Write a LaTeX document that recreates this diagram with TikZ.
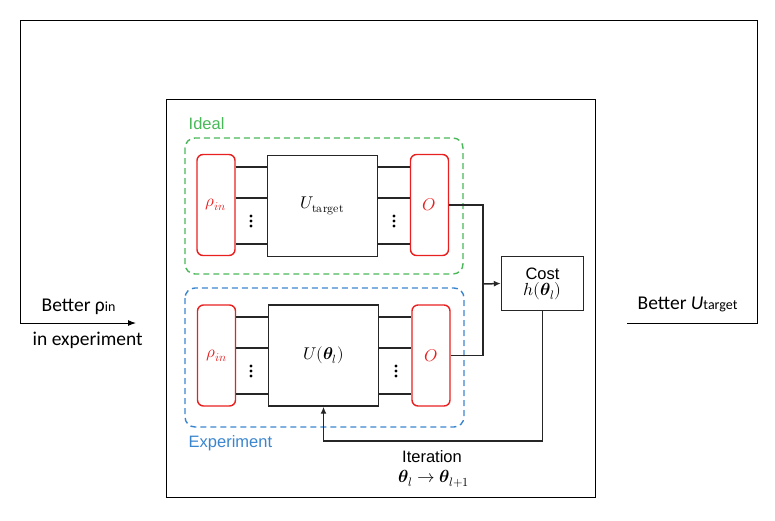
\documentclass[tikz,border=0pt]{standalone}
\usepackage{fontspec}
\usepackage{unicode-math}
\setmainfont{Liberation Sans}
\setmathfont{Latin Modern Math}
\newfontfamily\notefont{Carlito}
\usetikzlibrary{arrows.meta}

\definecolor{idealgreen}{RGB}{72,184,88}
\definecolor{expblue}{RGB}{58,134,206}
\definecolor{statered}{RGB}{232,32,32}

\newcommand{\bigmath}[1]{{\fontsize{17.5}{19}\selectfont$#1$}}

\begin{document}
\begin{tikzpicture}[x=1pt,y=-1pt,
  line width=1.4pt,
  wire/.style={draw=black!85, line width=1.5pt},
  statebox/.style={draw=statered, rounded corners=6pt, minimum width=38pt, minimum height=101pt, inner sep=0pt, font=\fontsize{17}{19}\selectfont, text=statered},
  gatebox/.style={draw=black!85, minimum width=110pt, minimum height=101pt, inner sep=0pt, font=\fontsize{17}{19}\selectfont},
  costbox/.style={draw=black!85, minimum width=82pt, minimum height=54pt, inner sep=0pt, font=\fontsize{16.5}{19}\selectfont, align=center},
  region/.style={dashed, dash pattern=on 6pt off 4pt, line width=1.4pt, rounded corners=10pt},
  label/.style={font=\fontsize{16.5}{19}\selectfont, inner sep=0pt},
  note/.style={font=\notefont\fontsize{19.5}{23}\selectfont, inner sep=0pt},
  arr/.style={-{Latex[length=7pt,width=6pt]}}
]
\useasboundingbox (0,0) rectangle (775,520);

% outer frame of the circuit
\draw[black, line width=1pt] (166,99) rectangle (595,497);

% dashed regions
\draw[region, idealgreen] (185,138) rectangle (463,274);
\draw[region, expblue] (185,288) rectangle (464,427);
\node[label, anchor=west, text=idealgreen] (ideal) at (188,124) {Ideal};
\node[label, anchor=west, text=expblue] (exp) at (188,443) {Experiment};

% ideal branch
\node[statebox] (rho1) at (216,205) {$\rho_{in}$};
\node[gatebox] (U1) at (322.5,206) {$U_{\symup{target}}$};
\node[statebox] (O1) at (429.5,205) {$O$};

% experiment branch
\node[statebox] (rho2) at (216.5,355.5) {$\rho_{in}$};
\node[gatebox] (U2) at (323.5,355.5) {$U(\symbfit{\theta}_l)$};
\node[statebox] (O2) at (431,355.5) {$O$};

% qubit wires
\foreach \y in {167,198,244} {
  \draw[wire] (rho1.east|-0,\y) -- (U1.west|-0,\y);
  \draw[wire] (U1.east|-0,\y) -- (O1.west|-0,\y);
}
\foreach \y in {317,348,394} {
  \draw[wire] (rho2.east|-0,\y) -- (U2.west|-0,\y);
  \draw[wire] (U2.east|-0,\y) -- (O2.west|-0,\y);
}
\foreach \x/\y in {251/216,251/221,251/226,394/216,394/221,394/226,
                   251/366,251/371,251/376,396/366,396/371,396/376} {
  \fill (\x,\y) circle (1.7pt);
}

% cost
\node[costbox] (cost) at (542.5,283.5) {Cost\\[-3pt]\bigmath{h(\symbfit{\theta}_l)}};
\coordinate (join) at (483,284);
\draw[wire] (O1.east) -| (join);
\draw[wire] (O2.east) -| (join);
\draw[wire, arr] (join) -- (cost.west);

% iteration feedback
\coordinate (turn) at (542.5,441);
\draw[wire, arr] (cost.south) -- (turn) -| (U2.south);
\node[label, anchor=center] (iter) at (432,457) {Iteration};
\node[label, anchor=center] (iterlaw) at (434,479) {\bigmath{\symbfit{\theta}_l \rightarrow \symbfit{\theta}_{l+1}}};

% outer loop
\coordinate (rstart) at (627,323);
\coordinate (rcorner) at (757,323);
\coordinate (tr) at (757,20);
\coordinate (tl) at (20,20);
\coordinate (lcorner) at (20,323);
\coordinate (lend) at (136,323);
\draw[black, line width=1pt, -{Latex[length=8pt,width=6pt]}]
  (rstart) -- (rcorner) -- (tr) -- (tl) -- (lcorner) -- (lend);

\node[note, anchor=base west] (betterrho) at (41,311) {Better ρ{\fontsize{14}{16}\selectfont in}};
\node[note, anchor=base west] (inexp) at (32,345) {in experiment};
\node[note, anchor=base west] (betterU) at (637,309) {Better \textit{U}{\fontsize{14}{16}\selectfont target}};
\end{tikzpicture}
\end{document}
